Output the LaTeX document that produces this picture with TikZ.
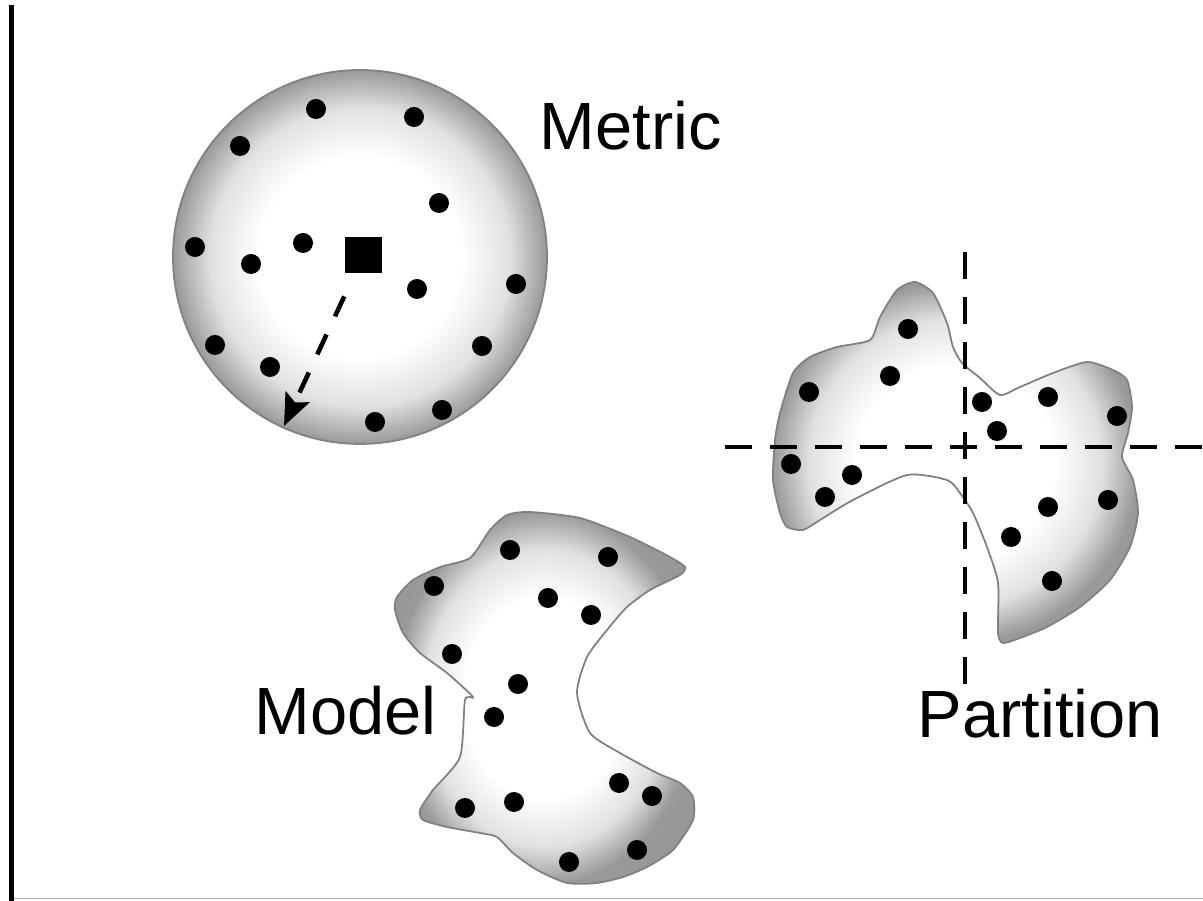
\documentclass[tikz,border=0pt]{standalone}
\usepackage{fontspec}
\setmainfont{Liberation Sans}
\usetikzlibrary{arrows.meta}
\pgfdeclareradialshading{blob}{\pgfpoint{0bp}{0bp}}{color(0bp)=(white); color(13.5bp)=(white); color(20bp)=(black!12); color(25bp)=(black!40); color(50bp)=(black!45)}
\tikzset{
  region/.style={shading=blob, draw=black!50, line width=0.5pt},
  dot/.style={fill=black},
  lbl/.style={font=\fontsize{19}{22}\selectfont, inner sep=0pt, anchor=base west},
  cut/.style={line width=1.4pt, dash pattern=on 0.27cm off 0.18cm},
}
\begin{document}
\begin{tikzpicture}[x=0.01cm,y=-0.01cm]
\useasboundingbox (0,0) rectangle (1203,901);
% frame
\draw[line width=1.4pt] (11.5,5) -- (11.5,901);
\draw[black!30, line width=0.4pt] (14,898.5) -- (1203,898.5);

% Metric
\shade[region] (360,257) circle (187);
\foreach \p in {(316,109),(414,117),(240,146),(439,203),(195,247),(303,243),(251,264),(417,289),(516,284),(215,345),(270,367),(482,346),(375,422),(442,410)} {\fill[dot] \p circle (10);}
\node[fill=black, minimum size=0.36cm, inner sep=0pt] (sq) at (363.5,255) {};
\coordinate (rad) at (284,426);
\draw[line width=1.3pt, dash pattern=on 0.22cm off 0.2cm, shorten <=0.25cm, -{Stealth[length=0.32cm,width=0.26cm,inset=0.06cm]}] (sq) -- (rad);
\node[lbl] (metric) at (539,150) {Metric};

% Model
\shade[region] plot[smooth cycle, tension=0.4] coordinates {(397,597) (413,580) (440,567) (470,558) (490,530) (507,515) (530,512) (580,518) (630,537) (670,557) (685,567) (680,575) (650,590) (627,607) (607,630) (587,657) (577,693) (590,733) (620,753) (657,773) (680,783) (693,797) (693,820) (673,850) (647,867) (623,877) (597,883) (567,883) (537,870) (513,853) (497,837) (480,833) (447,827) (423,820) (420,810) (433,790) (460,757) (465,700) (473,697) (447,673) (420,653) (403,633) (395,610)};
\foreach \p in {(510,550),(608,557),(434,586),(548,598),(591,615),(452,654),(518,684),(494,717),(619,783),(652,796),(465,808),(514,802),(569,862),(637,850)} {\fill[dot] \p circle (10);}
\node[lbl] (model) at (254,735) {Model};

% Partition
\shade[region] plot[smooth cycle, tension=0.4] coordinates {(915,282) (933,293) (947,323) (953,347) (962,363) (980,378) (1000,395) (1020,387) (1053,373) (1087,362) (1113,370) (1127,380) (1132,407) (1128,433) (1122,457) (1133,480) (1138,513) (1130,547) (1110,580) (1080,607) (1047,627) (1020,638) (1003,643) (998,633) (998,583) (987,547) (973,513) (960,493) (947,480) (907,475) (853,500) (820,520) (803,530) (787,527) (780,513) (773,480) (775,440) (780,413) (793,373) (810,357) (837,347) (870,340) (880,317) (897,290)};
\foreach \p in {(908,329),(890,376),(809,392),(982,402),(1048,397),(1117,416),(997,431),(791,464),(852,475),(825,497),(1048,507),(1108,500),(1011,537),(1052,581)} {\fill[dot] \p circle (10);}
\coordinate (vt) at (965,252);
\coordinate (vb) at (965,686);
\coordinate (hl) at (725,447);
\coordinate (hr) at (1203,447);
\draw[cut] (vt) -- (vb);
\draw[cut] (hl) -- (hr);
\node[lbl] (partition) at (917,738) {Partition};
\end{tikzpicture}
\end{document}
